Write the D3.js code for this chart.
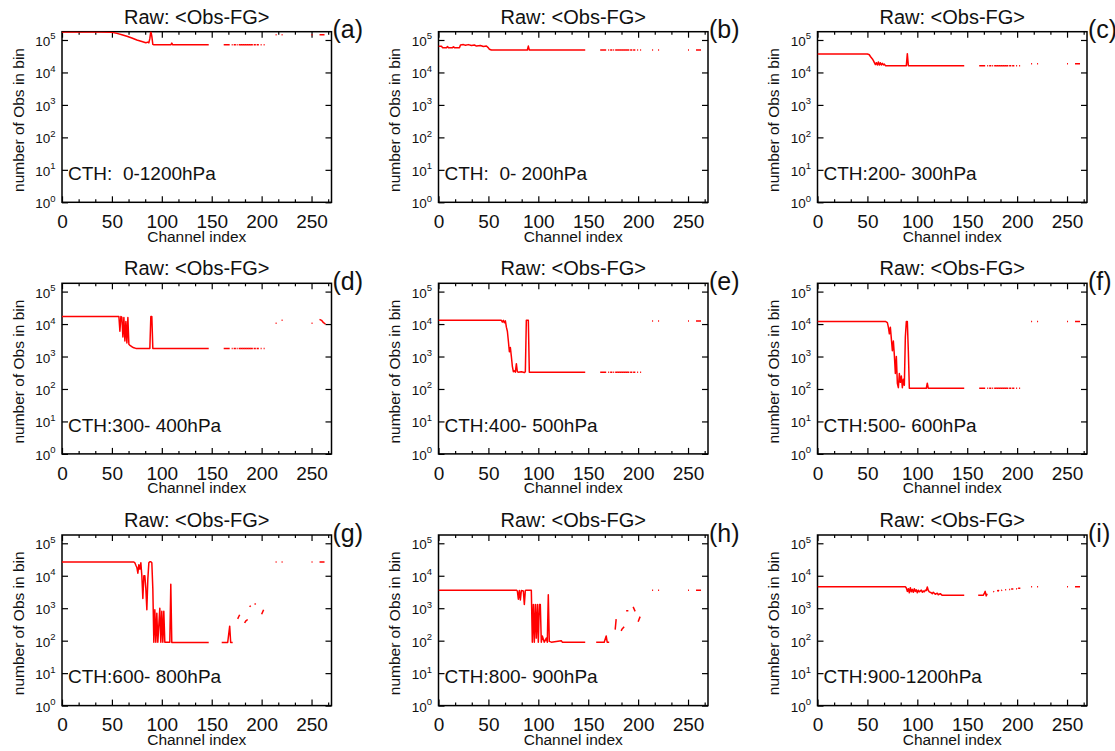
<!DOCTYPE html>
<html>
<head>
<meta charset="utf-8">
<script src="https://cdn.jsdelivr.net/npm/d3@7"></script>
<style>
body { margin: 0; background: #fff; }
svg { font-family: "Liberation Sans", Arial, Helvetica, sans-serif; }
.tick line { stroke: #000; stroke-width: 1.2; }
.data { fill: none; stroke: #ff0000; stroke-width: 1.5; stroke-linejoin: round; }
</style>
</head>
<body>
<svg width="1115" height="751"></svg>
<script>
// channel axis / decade axis
var channelTicks = [0, 50, 100, 150, 200, 250];
var decadeTicks = [1, 10, 100, 1e3, 1e4, 1e5];
var panelTags = ["(a)", "(b)", "(c)", "(d)", "(e)", "(f)", "(g)", "(h)", "(i)"];
var cthLabels = ["CTH:  0-1200hPa", "CTH:  0- 200hPa", "CTH:200- 300hPa",
                 "CTH:300- 400hPa", "CTH:400- 500hPa", "CTH:500- 600hPa",
                 "CTH:600- 800hPa", "CTH:800- 900hPa", "CTH:900-1200hPa"];

// main curve of each panel, [channel, number of obs]
var lineA = [[0,1.75e5],[10,1.78e5],[20,1.75e5],[30,1.78e5],[40,1.75e5],[50,1.74e5],[55,1.6e5],[60,1.45e5],[65,1.3e5],[70,1.15e5],[75,1.0e5],[80,9e4],[84,8.2e4],[86,8.6e4],[87,8.2e4],[88,1.1e5],[89,1.9e5],[90,1.3e5],[91,7.3e4],[92,7.1e4],[109,7.1e4],[110,8e4],[111,7.1e4],[147,7.1e4]];
var lineB = [[0,6.4e4],[3,6.4e4],[4,5.8e4],[8,5.8e4],[9,6.3e4],[10,5.8e4],[14,5.8e4],[15,6.2e4],[16,5.8e4],[21,5.8e4],[22,7e4],[25,7.2e4],[27,6.9e4],[30,7.2e4],[33,6.8e4],[36,7e4],[38,6.5e4],[42,6.8e4],[45,6.3e4],[48,6.5e4],[50,5.7e4],[51,5.2e4],[53,4.9e4],[89,4.9e4],[90,6.5e4],[91,4.9e4],[147,4.9e4]];
var lineC = [[0,3.7e4],[50,3.7e4],[52,3.5e4],[53,3.1e4],[55,2.6e4],[56,2.3e4],[57,2.0e4],[58,1.75e4],[59,2.0e4],[60,1.7e4],[61,2.1e4],[62,1.7e4],[63,2.0e4],[64,1.7e4],[65,1.9e4],[66,1.7e4],[67,1.8e4],[68,1.62e4],[89,1.62e4],[90,3.8e4],[91,1.62e4],[147,1.62e4]];
var lineD = [[0,1.7e4],[57,1.7e4],[58,6e3],[59,1.7e4],[60,1.6e4],[61,4e3],[62,1.6e4],[63,3e3],[64,1.2e4],[65,2.6e3],[66,1.6e4],[67,2.4e3],[68,2.2e3],[70,2e3],[72,1.85e3],[74,1.78e3],[88,1.78e3],[89,1.7e4],[90,1.7e4],[91,1.78e3],[147,1.78e3]];
var lineE = [[0,1.3e4],[63,1.3e4],[64,1.15e4],[65,1.3e4],[66,1.1e4],[67,1.25e4],[68,8e3],[69,6e3],[70,3e3],[71,1.4e3],[72,1.9e3],[73,1e3],[74,5e2],[75,3.4e2],[76,3.6e2],[77,3.3e2],[78,6e2],[79,3.4e2],[80,3.3e2],[83,3.4e2],[86,3.2e2],[87,3.4e2],[88,1.3e4],[89,1.3e4],[90,1.3e4],[91,3.3e2],[147,3.3e2]];
var lineF = [[0,1.2e4],[68,1.2e4],[70,1.1e4],[71,8e3],[72,5e3],[73,8e3],[74,3.5e3],[75,1.5e3],[76,3e3],[77,1.1e3],[78,3e2],[79,1e3],[80,1.5e2],[81,1.1e2],[82,3e2],[83,1.6e2],[84,2.5e2],[85,1.1e2],[86,2e2],[87,1.3e2],[88,4e3],[89,1.2e4],[90,1.2e4],[91,1.5e3],[92,1.05e2],[109,1.05e2],[110,1.5e2],[111,1.05e2],[147,1.05e2]];
var lineG = [[0,2.65e4],[72,2.65e4],[73,2.5e4],[74,2.1e4],[75,1.8e4],[76,1.2e4],[77,2.2e4],[78,1.6e4],[79,2.5e4],[80,1.0e4],[81,2e3],[82,1.0e4],[83,1.0e4],[84,4e3],[85,9e2],[86,8e3],[87,2.5e4],[88,2.7e4],[89,2.7e4],[90,2.5e4],[91,4e3],[92,90],[93,9e2],[94,90],[95,7e2],[96,90],[97,3e2],[98,1e3],[99,90],[100,8e2],[101,90],[102,8e2],[103,90],[108,90],[109,5.5e3],[110,88],[147,88]];
var lineH = [[0,3.6e3],[78,3.6e3],[79,3.4e3],[80,1.9e3],[81,3.5e3],[82,1.8e3],[83,3.5e3],[85,3.4e3],[86,1.3e3],[87,3.5e3],[88,3.6e3],[93,3.6e3],[94,90],[95,1.3e3],[96,90],[97,1.3e3],[98,1.2e2],[99,1.3e3],[100,90],[101,1.3e3],[102,1.3e3],[103,90],[104,1.4e2],[106,90],[108,1.2e2],[109,90],[110,2.6e3],[111,95],[113,90],[123,1e2],[124,90],[147,90]];
var lineI = [[0,4.6e3],[88,4.6e3],[89,4.2e3],[90,3.3e3],[91,4e3],[92,3e3],[93,4.3e3],[94,3.2e3],[95,3.8e3],[96,3.1e3],[97,4e3],[98,3.3e3],[99,3.7e3],[100,3e3],[101,3.6e3],[102,3.2e3],[104,3.6e3],[105,3.1e3],[106,3.4e3],[107,3.2e3],[108,3.6e3],[109,3.5e3],[110,4.5e3],[111,3.5e3],[112,3.2e3],[114,3.0e3],[115,2.8e3],[116,3.1e3],[118,2.7e3],[120,2.9e3],[121,2.6e3],[123,2.8e3],[125,2.5e3],[147,2.5e3]];

// sparse channels right of the gap
var lowChannels = [162,163,164,165,166,167,168,170,171,173,175,176,178,180,182,184,186,188,190,193,196,199,200,202,203];
var highChannels = [214,215,220,221,250,251,258,259,260,261,262,263];
var lowLevels = [7.1e4, 4.9e4, 1.62e4, 1.78e3, 3.3e2, 1.05e2, null, null, null];
var highLevels = [1.45e5, 4.9e4, 1.85e4, null, 1.25e4, 1.2e4, 2.65e4, 3.6e3, 4.6e3];
var highD = [[214,1.05e4],[215,1.05e4],[220,1.3e4],[221,1.3e4],[250,1.05e4],[251,1.05e4],[258,1.4e4],[259,1.35e4],[260,1.3e4],[261,1.2e4],[262,1.1e4],[263,1.05e4],[264,1e4]];
var lowG = [[[160,88],[166,88],[168,2.8e2],[169,88],[171,88]], [[176,4.7e2],[178,6.3e2]], [[183,3.5e2],[184,4e2],[186,4.5e2]], [[188,1.1e3],[189,1.2e3]], [[193,1.4e3],[194,1.3e3]], [[200,6.5e2],[202,9e2]]];
var lowH = [[[158,90],[166,90],[168,1.4e2],[169,90],[171,90]], [[177,2.2e2],[178,4.6e2]], [[183,2e2],[184,2.3e2],[186,2.7e2]], [[189,8.3e2]], [[195,1.1e3],[197,8e2]], [[200,3.8e2],[202,5.5e2]]];
var lowI = [[[161,2.5e3],[166,2.5e3],[167,2.8e3],[168,3.3e3],[169,2.4e3],[170,2.8e3]], [[176,3.3e3],[177,3.2e3]], [[180,3.4e3],[181,3.5e3],[182,3.4e3]], [[184,3.5e3],[185,3.6e3]], [[188,3.7e3],[189,3.7e3]], [[192,3.8e3],[193,3.8e3]], [[195,3.9e3]], [[199,4e3],[200,3.9e3]], [[202,4.1e3]]];

var mainLines = [lineA, lineB, lineC, lineD, lineE, lineF, lineG, lineH, lineI];
var lowExtra = [null, null, null, null, null, null, lowG, lowH, lowI];

var colX = [62, 438.5, 817.5], rowY = [31.7, 283.3, 535];
var pw = 269.5, ph = 170.6;

var svg = d3.select("svg");
var x = d3.scaleLinear().domain([0, 270]).range([0, pw]);
var y = d3.scaleLog().domain([1, 1.8e5]).range([ph, 0]);
var line = d3.line().x(function(d) { return x(d[0]); }).y(function(d) { return y(d[1]); });
var minorTicks = d3.range(1, 17).filter(function(k) { return k % 3 != 0; }).map(function(k) { return k * 50 / 3; });

// group consecutive channels into little runs
function runs(pts) {
  var out = [], cur = [];
  pts.forEach(function(p) {
    if (cur.length && p[0] - cur[cur.length - 1][0] > 1) { out.push(cur); cur = []; }
    cur.push(p);
  });
  if (cur.length) out.push(cur);
  return out;
}

function drawSeg(g, seg) {
  if (seg.length == 1) {
    var px = x(seg[0][0]), py = y(seg[0][1]);
    g.append("path").attr("class", "data").attr("d", "M" + (px - 1) + "," + py + "h2.2");
  } else {
    g.append("path").attr("class", "data").attr("d", line(seg));
  }
}

for (var i = 0; i < 9; i++) {
  var g = svg.append("g").attr("transform", "translate(" + colX[i % 3] + "," + rowY[Math.floor(i / 3)] + ")");

  g.append("clipPath").attr("id", "clip" + i).append("rect").attr("width", pw).attr("height", ph);

  g.append("rect").attr("width", pw).attr("height", ph)
    .attr("fill", "none").attr("stroke", "#000").attr("stroke-width", 1.5);

  // axes (ticks point inward on all four sides)
  var xb = g.append("g").attr("transform", "translate(0," + ph + ")")
    .call(d3.axisBottom(x).tickValues(channelTicks).tickSizeInner(-6).tickSizeOuter(0).tickPadding(12.3));
  xb.selectAll("text").attr("font-size", 19).attr("fill", "#111");
  g.append("g").attr("transform", "translate(0," + ph + ")")
    .call(d3.axisBottom(x).tickValues(minorTicks).tickSizeInner(-3).tickSizeOuter(0).tickFormat(""));
  g.append("g").call(d3.axisTop(x).tickValues(channelTicks).tickSizeInner(-6).tickSizeOuter(0).tickFormat(""));
  g.append("g").call(d3.axisTop(x).tickValues(minorTicks).tickSizeInner(-3).tickSizeOuter(0).tickFormat(""));
  var yl = g.append("g").call(d3.axisLeft(y).tickValues(decadeTicks).tickSizeInner(-6).tickSizeOuter(0).tickFormat(""));
  g.append("g").attr("transform", "translate(" + pw + ",0)")
    .call(d3.axisRight(y).tickValues(decadeTicks).tickSizeInner(-6).tickSizeOuter(0).tickFormat(""));
  g.selectAll(".domain").remove();

  yl.selectAll(".tick").each(function(d) {
    var t = d3.select(this).select("text")
      .attr("x", -6.5).attr("y", 5.5).attr("dy", null)
      .attr("text-anchor", "end").attr("fill", "#111");
    t.append("tspan").attr("font-size", 13.5).text("10");
    t.append("tspan").attr("font-size", 9.5).attr("dy", -6.5).text(Math.round(Math.log10(d)));
  });

  // data
  var dg = g.append("g").attr("clip-path", "url(#clip" + i + ")");
  drawSeg(dg, mainLines[i]);
  if (lowLevels[i] != null) {
    runs(lowChannels.map(function(c) { return [c, lowLevels[i]]; })).forEach(function(s) { drawSeg(dg, s); });
  } else {
    lowExtra[i].forEach(function(s) { drawSeg(dg, s); });
  }
  var hp = highLevels[i] != null ? highChannels.map(function(c) { return [c, highLevels[i]]; }) : highD;
  runs(hp).forEach(function(s) { drawSeg(dg, s); });

  // texts
  g.append("text").attr("x", pw / 2).attr("y", -8).attr("text-anchor", "middle")
    .attr("font-size", 20).attr("fill", "#111").text("Raw: <Obs-FG>");
  g.append("text").attr("x", pw + 1).attr("y", 6.5)
    .attr("font-size", 25).attr("fill", "#111").text(panelTags[i]);
  g.append("text").attr("x", 6).attr("y", ph - 22.3).attr("font-size", 19)
    .attr("fill", "#111").style("white-space", "pre").text(cthLabels[i]);
  g.append("text").attr("transform", "translate(-38.5," + (ph / 2 + 3) + ") rotate(-90)")
    .attr("text-anchor", "middle").attr("font-size", 15.5).attr("fill", "#111").text("number of Obs in bin");
  g.append("text").attr("x", pw / 2).attr("y", ph + 39.3).attr("text-anchor", "middle")
    .attr("font-size", 15.5).attr("fill", "#111").text("Channel index");
}
</script>
</body>
</html>
